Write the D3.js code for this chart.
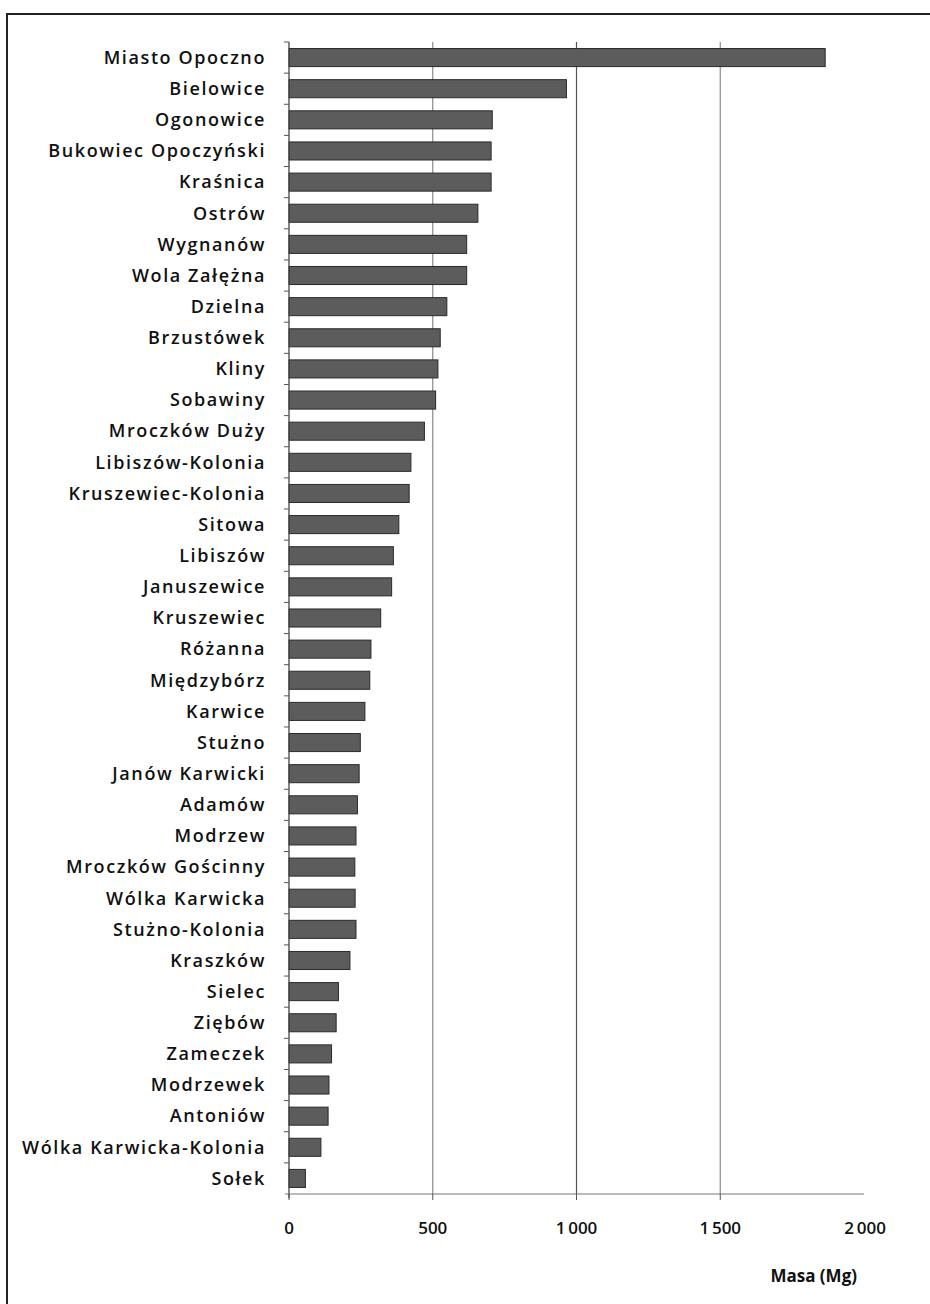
<!DOCTYPE html>
<html>
<head>
<meta charset="utf-8">
<script src="https://cdn.jsdelivr.net/npm/d3@7"></script>
<style>
  body { margin: 0; background: #fff; }
  svg { display: block; }
</style>
</head>
<body>
<svg id="chart" width="930" height="1304"></svg>
<script>
const villages = [
  'Miasto Opoczno', 'Bielowice', 'Ogonowice', 'Bukowiec Opoczyński', 'Kraśnica',
  'Ostrów', 'Wygnanów', 'Wola Załężna', 'Dzielna', 'Brzustówek', 'Kliny',
  'Sobawiny', 'Mroczków Duży', 'Libiszów-Kolonia', 'Kruszewiec-Kolonia', 'Sitowa',
  'Libiszów', 'Januszewice', 'Kruszewiec', 'Różanna', 'Międzybórz', 'Karwice',
  'Stużno', 'Janów Karwicki', 'Adamów', 'Modrzew', 'Mroczków Gościnny',
  'Wólka Karwicka', 'Stużno-Kolonia', 'Kraszków', 'Sielec', 'Ziębów', 'Zameczek',
  'Modrzewek', 'Antoniów', 'Wólka Karwicka-Kolonia', 'Sołek'
];
const masa = [
  1865, 965, 707, 703, 703,
  657, 618, 618, 549, 526, 518,
  510, 471, 424, 418, 382,
  363, 357, 319, 285, 281, 264,
  248, 244, 238, 233, 229,
  230, 233, 212, 172, 164, 148,
  139, 136, 111, 57
];
const xTicks = [0, 500, 1000, 1500, 2000];
const xTitle = 'Masa (Mg)';

const svg = d3.select('#chart');

// scanned page frame
svg.append('rect')
  .attr('x', 7).attr('y', 14)
  .attr('width', 940).attr('height', 1310)
  .attr('fill', 'none')
  .attr('stroke', '#222')
  .attr('stroke-width', 2);

const x = d3.scaleLinear().domain([0, 2000]).range([289, 864]);
const y = d3.scaleBand().domain(villages).range([42, 1194]).paddingInner(0.42).paddingOuter(0.21);

const pl = d3.formatLocale({ decimal: ',', thousands: '\u2009', grouping: [3], currency: ['', ' zł'] });
const fmt = pl.format(',d');

// gridlines
svg.append('g')
  .selectAll('line')
  .data(xTicks.filter(t => t > 0 && t < 2000))
  .enter()
  .append('line')
  .attr('x1', d => x(d)).attr('x2', d => x(d))
  .attr('y1', 42).attr('y2', 1194)
  .attr('stroke', d => d === 1000 ? '#555' : '#8a8a8a')
  .attr('stroke-width', 1.2);

// bars
svg.append('g')
  .selectAll('rect')
  .data(villages)
  .enter()
  .append('rect')
  .attr('x', x(0))
  .attr('y', d => y(d))
  .attr('width', (d, i) => x(masa[i]) - x(0))
  .attr('height', y.bandwidth())
  .attr('fill', '#5c5c5c')
  .attr('stroke', '#2a2a2a')
  .attr('stroke-width', 1);

// y axis
const bounds = villages.map(v => y(v) - y.step() * y.paddingInner() / 2);
svg.append('line')
  .attr('x1', x(0)).attr('x2', x(0))
  .attr('y1', 42).attr('y2', 1198)
  .attr('stroke', '#444').attr('stroke-width', 1.3);
svg.append('g')
  .selectAll('line')
  .data([42].concat(bounds.slice(1)))
  .enter()
  .append('line')
  .attr('x1', x(0) - 5).attr('x2', x(0))
  .attr('y1', d => d).attr('y2', d => d)
  .attr('stroke', '#555');

svg.append('g')
  .selectAll('text')
  .data(villages)
  .enter()
  .append('text')
  .attr('x', 266)
  .attr('y', d => y(d) + y.bandwidth() / 2)
  .attr('dy', '0.35em')
  .attr('text-anchor', 'end')
  .attr('font-family', 'Open Sans, sans-serif')
  .attr('font-size', 18)
  .attr('font-weight', 600)
  .attr('letter-spacing', 1.6)
  .attr('fill', '#111')
  .text(d => d);

// x axis
svg.append('line')
  .attr('x1', x(0) - 4).attr('x2', x(2000))
  .attr('y1', 1194).attr('y2', 1194)
  .attr('stroke', '#777').attr('stroke-width', 1.2);
svg.append('g')
  .selectAll('line')
  .data(xTicks.slice(0, -1))
  .enter()
  .append('line')
  .attr('x1', d => x(d)).attr('x2', d => x(d))
  .attr('y1', 1194).attr('y2', 1200)
  .attr('stroke', '#555');

svg.append('g')
  .selectAll('text')
  .data(xTicks)
  .enter()
  .append('text')
  .attr('x', d => x(d))
  .attr('y', 1228)
  .attr('dy', '0.35em')
  .attr('text-anchor', d => d === 2000 ? 'end' : 'middle')
  .attr('dx', d => d === 2000 ? 22 : 0)
  .attr('font-family', 'Open Sans, sans-serif')
  .attr('font-size', 17)
  .attr('font-weight', 600)
  .attr('fill', '#111')
  .text(d => fmt(d));

svg.append('text')
  .attr('x', 857)
  .attr('y', 1276)
  .attr('dy', '0.35em')
  .attr('text-anchor', 'end')
  .attr('font-family', 'Open Sans, sans-serif')
  .attr('font-size', 17)
  .attr('font-weight', 'bold')
  .attr('fill', '#111')
  .text(xTitle);
</script>
</body>
</html>
